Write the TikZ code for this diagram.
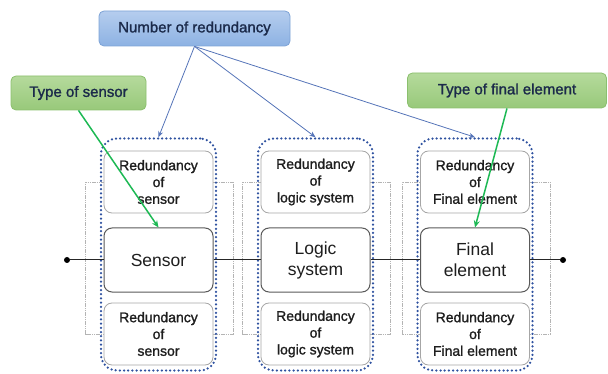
\documentclass[tikz,border=0pt]{standalone}
\usepackage{fontspec}
\setmainfont{Liberation Sans}
\newfontfamily\heavyfont{Liberation Sans}[FakeBold=1.3]
\usetikzlibrary{arrows.meta}

\definecolor{txtnavy}{HTML}{1B2A4A}
\definecolor{txtdark}{HTML}{1E1E1E}
\definecolor{boxgray}{HTML}{A6A6A6}
\definecolor{bracketgray}{HTML}{B4B4B4}
\definecolor{boxdark}{HTML}{595959}
\definecolor{dotblue}{HTML}{2F52A0}
\definecolor{arrblue}{HTML}{5574B8}
\definecolor{arrgreen}{HTML}{1DB954}
\definecolor{bluetop}{HTML}{B5CDEE}
\definecolor{bluebot}{HTML}{8DB2E3}
\definecolor{blueedge}{HTML}{7DA3D6}
\definecolor{greentop}{HTML}{B5DA9C}
\definecolor{greenbot}{HTML}{98C97A}
\definecolor{greenedge}{HTML}{8BC06E}

\tikzset{
  redbox/.style={draw=boxgray, fill=white, rounded corners=8pt, line width=0.8pt,
    minimum width=109pt, minimum height=62pt, align=center, text=txtdark,
    font=\heavyfont\fontsize{14}{16.8}\selectfont, inner sep=1pt},
  mainbox/.style={draw=boxdark, fill=white, rounded corners=8pt, line width=1pt,
    minimum width=109pt, minimum height=64pt, align=center, text=txtdark,
    font=\fontsize{17.5}{21}\selectfont, inner sep=1pt},
  groupbox/.style={draw=dotblue, line width=2.5pt, dash pattern=on 0pt off 4.2pt,
    line cap=round, rounded corners=16pt, minimum width=115pt, minimum height=232pt},
  bracket/.style={draw=bracketgray, line width=0.8pt, dash pattern=on 1.2pt off 0.6pt},
  tagblue/.style={draw=blueedge, line width=0.8pt, top color=bluetop, bottom color=bluebot,
    rounded corners=5pt, text=txtnavy, font=\heavyfont\fontsize{15}{18}\selectfont},
  taggreen/.style={draw=greenedge, line width=0.8pt, top color=greentop, bottom color=greenbot,
    rounded corners=5pt, text=txtnavy, font=\heavyfont\fontsize{15}{18}\selectfont},
  bluearrow/.style={draw=arrblue, line width=0.8pt, -{Stealth[length=6pt,width=5pt]}},
  greenarrow/.style={draw=arrgreen, line width=1.5pt, -{Stealth[length=7pt,width=6pt]}},
  wire/.style={draw=black!85, line width=1pt},
  terminal/.style={circle, fill=black, inner sep=0pt, minimum size=6pt}
}

\begin{document}
\begin{tikzpicture}[x=1pt, y=-1pt]
  \useasboundingbox (0,0) rectangle (608,374);

  % three stages: redundant copies above and below the main element
  \foreach \c/\x/\nm/\lbl in {s/158.5/sensor/Sensor, l/315.5/logic system/{Logic\\system}, f/475/Final element/{Final\\element}} {
    \node[redbox]  (top\c) at (\x,182) {Redundancy\\of\\\nm};
    \node[mainbox] (mid\c) at (\x,260) {\lbl};
    \node[redbox]  (bot\c) at (\x,334) {Redundancy\\of\\\nm};
    \draw[bracket] (top\c.west) -- ++(-18,0) |- (bot\c.west);
    \draw[bracket] (top\c.east) -- ++(20,0) |- (bot\c.east);
    \node[groupbox] (grp\c) at (\x,254.5) {};
  }

  % series chain between the terminals
  \node[terminal] (lin) at (67,260) {};
  \node[terminal] (rin) at (563,260) {};
  \draw[wire] (lin) -- (mids.west);
  \draw[wire] (mids.east) -- (midl.west);
  \draw[wire] (midl.east) -- (midf.west);
  \draw[wire] (midf.east) -- (rin);

  % callouts
  \node[tagblue, minimum width=191pt, minimum height=35pt] (nr) at (194.5,28.5) {Number of redundancy};
  \node[taggreen, minimum width=135pt, minimum height=34pt] (ts) at (78.5,93) {Type of sensor};
  \node[taggreen, minimum width=199pt, minimum height=35pt] (tf) at (507,90.5) {Type of final element};

  \draw[bluearrow] (nr.south) -- (grps.north);
  \draw[bluearrow] (nr.south) -- (grpl.north);
  \draw[bluearrow] (nr.south) -- (grpf.north);
  \draw[greenarrow] (ts.south) -- (mids.north);
  \draw[greenarrow] (tf.south) -- (midf.north);
\end{tikzpicture}
\end{document}
